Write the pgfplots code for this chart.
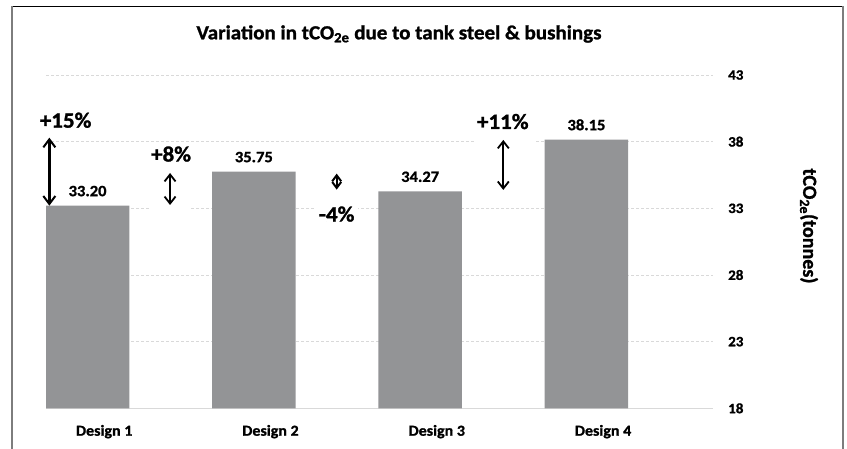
\documentclass[border=0pt]{standalone}
\usepackage{fontspec}
\setmainfont{Carlito}[BoldFeatures={FakeBold=1.2}]
\usepackage{graphicx}
\usepackage{pgfplots}
\pgfplotsset{compat=1.18}
\usetikzlibrary{arrows.meta}
\definecolor{bargray}{RGB}{147,148,150}
\definecolor{gridgray}{RGB}{217,217,217}
\definecolor{sidegray}{RGB}{125,125,125}
\newcommand{\sq}[1]{\scalebox{1}[0.95]{#1}}

\pgfplotstableread{
x y
0 33.20
1 35.75
2 34.27
3 38.15
}\designtable

\begin{document}
\begin{tikzpicture}[x=1pt,y=1pt]
\useasboundingbox (0,0) rectangle (847,448);
\begin{axis}[
  at={(46pt,39.7pt)}, anchor=south west, scale only axis,
  width=667pt, height=333.3pt,
  xmin=-0.25, xmax=3.761, ymin=18, ymax=43,
  clip mode=individual,
  axis x line=bottom, axis y line=right,
  x axis line style={draw=gridgray, line width=1.5pt, -},
  y axis line style={draw=none, -},
  ytick={18,23,28,33,38,43},
  xtick={0.1,1.1,2.1,3.1},
  xticklabels={\sq{Design 1},\sq{Design 2},\sq{Design 3},\sq{Design 4}},
  major tick length=0pt,
  ymajorgrids,
  grid style={gridgray, dash pattern=on 3pt off 2pt, line width=0.8pt},
  /pgf/number format/assume math mode=true,
  yticklabel={\sq{\pgfmathprintnumber{\tick}}},
  yticklabel style={anchor=west, inner sep=0pt, xshift=15pt, font=\fontsize{15}{17}\selectfont\bfseries},
  xticklabel style={anchor=base, inner sep=0pt, yshift=-27.4pt, font=\fontsize{16}{18}\selectfont\bfseries},
]
\addplot[ybar, bar width=0.502, fill=bargray, draw=none,
  nodes near coords={\sq{\pgfmathprintnumber[fixed,fixed zerofill,precision=2]{\pgfplotspointmeta}}},
  nodes near coords style={anchor=base, inner sep=0pt, yshift=9.5pt, text=black, font=\fontsize{16.5}{18}\selectfont\bfseries}]
  table[x=x,y=y] {\designtable};

% white boxes behind arrows (hide gridlines like the shapes do)
\fill[white] (axis cs:0.38,32.85) rectangle (axis cs:0.61,35.85);
\fill[white] (axis cs:2.33,34.2) rectangle (axis cs:2.69,38.4);

% arrows
\draw[{Straight Barb[length=8pt,width=12pt,line width=2pt]}-{Straight Barb[length=8pt,width=12pt,line width=2pt]}, line width=2.8pt]
  (axis cs:-0.23,33.2) -- (axis cs:-0.23,38.3);
\draw[{Straight Barb[length=7pt,width=11pt,line width=1.8pt]}-{Straight Barb[length=7pt,width=11pt,line width=1.8pt]}, line width=1.8pt]
  (axis cs:0.496,33.25) -- (axis cs:0.496,35.65);
\draw[{Straight Barb[length=6pt,width=9pt,line width=2pt]}-{Straight Barb[length=6pt,width=9pt,line width=2pt]}, line width=2pt]
  (axis cs:1.498,34.4) -- (axis cs:1.498,35.6);
\draw[{Straight Barb[length=7pt,width=11pt,line width=1.8pt]}-{Straight Barb[length=7pt,width=11pt,line width=1.8pt]}, line width=1.8pt]
  (axis cs:2.50,34.38) -- (axis cs:2.50,38.13);

% percentage labels
\node[anchor=base, fill=white, inner sep=4pt, font=\fontsize{23}{26}\selectfont\bfseries] at (axis cs:-0.132,39.05) {\sq{+15\%}};
\node[anchor=base, fill=white, inner sep=4pt, font=\fontsize{23}{26}\selectfont\bfseries] at (axis cs:0.502,36.51) {\sq{+8\%}};
\node[anchor=base, fill=white, inner sep=4pt, font=\fontsize{23}{26}\selectfont\bfseries] at (axis cs:1.498,32.01) {\sq{-4\%}};
\node[anchor=base, fill=white, inner sep=4pt, font=\fontsize{23}{26}\selectfont\bfseries] at (axis cs:2.497,38.95) {\sq{+11\%}};
\end{axis}

% y axis title
\node[rotate=-90, font=\fontsize{20}{22}\selectfont\bfseries] at (809,222) {tCO\textsubscript{2e}(tonnes)};

% chart title
\node[anchor=base, font=\fontsize{21}{24}\selectfont\bfseries] at (399,408.7) {\sq{Variation in tCO\textsubscript{2e} due to tank steel \& bushings}};

% chart border
\draw[black, line width=1pt] (11,441) -- (843,441);
\draw[sidegray, line width=2pt] (11.5,-2) -- (11.5,441.5);
\draw[sidegray, line width=2pt] (843,-2) -- (843,441.5);
\end{tikzpicture}
\end{document}
